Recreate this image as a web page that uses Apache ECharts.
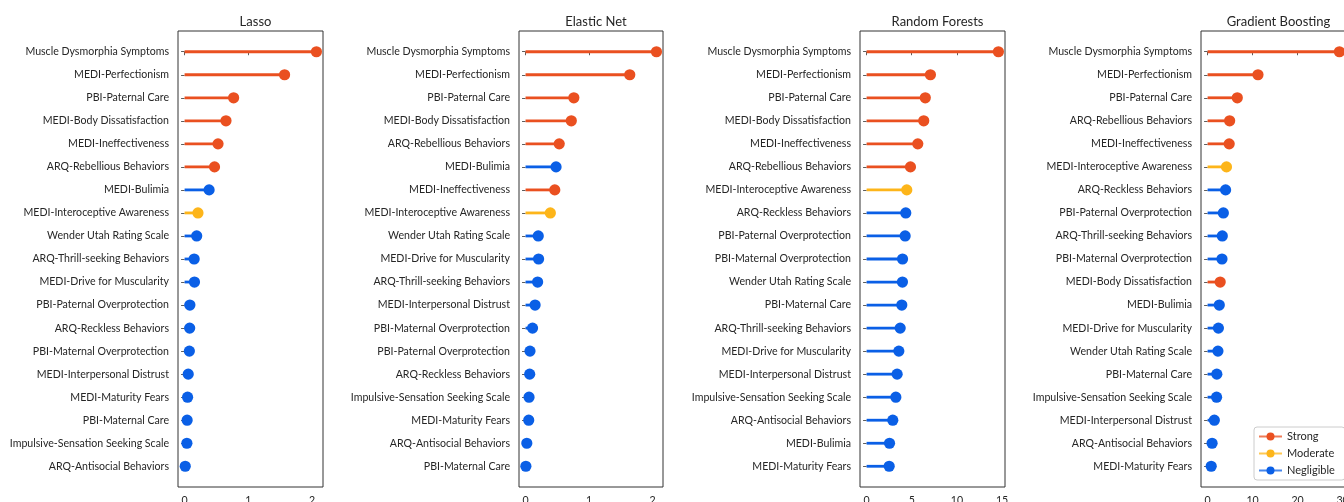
<!DOCTYPE html>
<html>
<head>
<meta charset="utf-8">
<title>Feature importance by model</title>
<script src="https://cdn.jsdelivr.net/npm/echarts@6/dist/echarts.min.js"></script>
<style>
  html, body { margin: 0; padding: 0; background: #fff; }
  #chart { width: 1344px; height: 502px; }
</style>
</head>
<body>
<div id="chart"></div>
<script>
// ---- Feature rankings and importance values per model ----
const lassoFeatures = [
  'Muscle Dysmorphia Symptoms', 'MEDI-Perfectionism', 'PBI-Paternal Care', 'MEDI-Body Dissatisfaction',
  'MEDI-Ineffectiveness', 'ARQ-Rebellious Behaviors', 'MEDI-Bulimia', 'MEDI-Interoceptive Awareness',
  'Wender Utah Rating Scale', 'ARQ-Thrill-seeking Behaviors', 'MEDI-Drive for Muscularity',
  'PBI-Paternal Overprotection', 'ARQ-Reckless Behaviors', 'PBI-Maternal Overprotection',
  'MEDI-Interpersonal Distrust', 'MEDI-Maturity Fears', 'PBI-Maternal Care',
  'Impulsive-Sensation Seeking Scale', 'ARQ-Antisocial Behaviors'
];
const lassoValues = [2.07, 1.57, 0.77, 0.65, 0.525, 0.47, 0.385, 0.21, 0.19, 0.15, 0.155,
  0.083, 0.08, 0.075, 0.057, 0.047, 0.04, 0.036, 0.01];
const lassoStrength = ['Strong', 'Strong', 'Strong', 'Strong', 'Strong', 'Strong', 'Negligible', 'Moderate',
  'Negligible', 'Negligible', 'Negligible', 'Negligible', 'Negligible', 'Negligible', 'Negligible',
  'Negligible', 'Negligible', 'Negligible', 'Negligible'];

const enetFeatures = [
  'Muscle Dysmorphia Symptoms', 'MEDI-Perfectionism', 'PBI-Paternal Care', 'MEDI-Body Dissatisfaction',
  'ARQ-Rebellious Behaviors', 'MEDI-Bulimia', 'MEDI-Ineffectiveness', 'MEDI-Interoceptive Awareness',
  'Wender Utah Rating Scale', 'MEDI-Drive for Muscularity', 'ARQ-Thrill-seeking Behaviors',
  'MEDI-Interpersonal Distrust', 'PBI-Maternal Overprotection', 'PBI-Paternal Overprotection',
  'ARQ-Reckless Behaviors', 'Impulsive-Sensation Seeking Scale', 'MEDI-Maturity Fears',
  'ARQ-Antisocial Behaviors', 'PBI-Maternal Care'
];
const enetValues = [2.06, 1.64, 0.76, 0.72, 0.53, 0.48, 0.46, 0.39, 0.20, 0.205, 0.19,
  0.15, 0.11, 0.07, 0.065, 0.055, 0.05, 0.02, 0.005];
const enetStrength = ['Strong', 'Strong', 'Strong', 'Strong', 'Strong', 'Negligible', 'Strong', 'Moderate',
  'Negligible', 'Negligible', 'Negligible', 'Negligible', 'Negligible', 'Negligible', 'Negligible',
  'Negligible', 'Negligible', 'Negligible', 'Negligible'];

const rfFeatures = [
  'Muscle Dysmorphia Symptoms', 'MEDI-Perfectionism', 'PBI-Paternal Care', 'MEDI-Body Dissatisfaction',
  'MEDI-Ineffectiveness', 'ARQ-Rebellious Behaviors', 'MEDI-Interoceptive Awareness',
  'ARQ-Reckless Behaviors', 'PBI-Paternal Overprotection', 'PBI-Maternal Overprotection',
  'Wender Utah Rating Scale', 'PBI-Maternal Care', 'ARQ-Thrill-seeking Behaviors',
  'MEDI-Drive for Muscularity', 'MEDI-Interpersonal Distrust', 'Impulsive-Sensation Seeking Scale',
  'ARQ-Antisocial Behaviors', 'MEDI-Bulimia', 'MEDI-Maturity Fears'
];
const rfValues = [14.6, 7.07, 6.5, 6.33, 5.67, 4.86, 4.45, 4.34, 4.27, 3.98, 3.97,
  3.9, 3.72, 3.57, 3.38, 3.24, 2.9, 2.54, 2.5];
const rfStrength = ['Strong', 'Strong', 'Strong', 'Strong', 'Strong', 'Strong', 'Moderate',
  'Negligible', 'Negligible', 'Negligible', 'Negligible', 'Negligible', 'Negligible', 'Negligible',
  'Negligible', 'Negligible', 'Negligible', 'Negligible', 'Negligible'];

const gbFeatures = [
  'Muscle Dysmorphia Symptoms', 'MEDI-Perfectionism', 'PBI-Paternal Care', 'ARQ-Rebellious Behaviors',
  'MEDI-Ineffectiveness', 'MEDI-Interoceptive Awareness', 'ARQ-Reckless Behaviors',
  'PBI-Paternal Overprotection', 'ARQ-Thrill-seeking Behaviors', 'PBI-Maternal Overprotection',
  'MEDI-Body Dissatisfaction', 'MEDI-Bulimia', 'MEDI-Drive for Muscularity', 'Wender Utah Rating Scale',
  'PBI-Maternal Care', 'Impulsive-Sensation Seeking Scale', 'MEDI-Interpersonal Distrust',
  'ARQ-Antisocial Behaviors', 'MEDI-Maturity Fears'
];
const gbValues = [29.3, 11.2, 6.6, 4.9, 4.8, 4.2, 4.0, 3.5, 3.27, 3.2, 2.8,
  2.6, 2.4, 2.3, 2.05, 2.0, 1.5, 1.0, 0.8];
const gbStrength = ['Strong', 'Strong', 'Strong', 'Strong', 'Strong', 'Moderate', 'Negligible',
  'Negligible', 'Negligible', 'Negligible', 'Strong', 'Negligible', 'Negligible', 'Negligible',
  'Negligible', 'Negligible', 'Negligible', 'Negligible', 'Negligible'];

// Tick labels on each importance axis
const lassoTicks = [0, 1, 2];
const enetTicks = [0, 1, 2];
const rfTicks = [0, 5, 10, 15];
const gbTicks = [0, 10, 20, 30];

const modelTitles = ['Lasso', 'Elastic Net', 'Random Forests', 'Gradient Boosting'];
const strengthLevels = ['Strong', 'Moderate', 'Negligible'];

// ---- Styling ----
const COLORS = { Strong: '#EA5020', Moderate: '#FDB51A', Negligible: '#0A5FE6' };
const FONT = 'Lato';
const TEXT = '#262626';
const LABEL_SIZE = 10.6;

const panels = [
  { title: modelTitles[0], features: lassoFeatures, values: lassoValues, strength: lassoStrength, ticks: lassoTicks, left: 178, width: 145 },
  { title: modelTitles[1], features: enetFeatures, values: enetValues, strength: enetStrength, ticks: enetTicks, left: 519, width: 144 },
  { title: modelTitles[2], features: rfFeatures, values: rfValues, strength: rfStrength, ticks: rfTicks, left: 860, width: 145 },
  { title: modelTitles[3], features: gbFeatures, values: gbValues, strength: gbStrength, ticks: gbTicks, left: 1201, width: 145 }
];

const GRID_TOP = 31, GRID_HEIGHT = 456;

function renderLollipop(params, api) {
  const v = api.value(0);
  const idx = api.value(1);
  const color = COLORS[strengthLevels[api.value(2)]];
  const base = api.coord([0, idx]);
  const tip = api.coord([v, idx]);
  return {
    type: 'group',
    children: [
      { type: 'line', shape: { x1: base[0], y1: base[1], x2: tip[0], y2: tip[1] },
        style: { stroke: color, lineWidth: 2.8 } },
      { type: 'circle', shape: { cx: tip[0], cy: tip[1], r: 5.6 },
        style: { fill: color } }
    ]
  };
}

const grid = [], xAxis = [], yAxis = [], series = [], title = [];

panels.forEach((p, k) => {
  const n = p.features.length;
  const rowIdx = p.features.map((_, i) => i);
  const maxV = Math.max(...p.values);
  const pad = maxV * 0.05;

  grid.push({
    left: p.left, top: GRID_TOP, width: p.width, height: GRID_HEIGHT,
    outerBoundsMode: 'none', containLabel: false,
    show: true, borderColor: '#333', borderWidth: 1, backgroundColor: '#fff'
  });

  title.push({
    text: p.title,
    left: p.left + p.width / 2,
    top: 10,
    textAlign: 'center',
    textStyle: { fontFamily: FONT, fontSize: 13, fontWeight: 'normal', color: TEXT }
  });

  xAxis.push({
    type: 'value', gridIndex: k,
    min: -pad, max: maxV + pad,
    axisLine: { show: false },
    splitLine: { show: false },
    axisTick: { show: true, customValues: p.ticks, length: 3.5, inside: false,
      lineStyle: { color: '#333', width: 0.8 } },
    axisLabel: { customValues: p.ticks, margin: 8, fontFamily: FONT, fontSize: LABEL_SIZE, color: TEXT,
      formatter: v => String(v) }
  });

  yAxis.push({
    type: 'value', gridIndex: k, inverse: true,
    min: -0.9, max: n - 1 + 0.9,
    axisLine: { show: false },
    splitLine: { show: false },
    axisTick: { show: true, customValues: rowIdx, length: 3.5,
      lineStyle: { color: '#333', width: 0.8 } },
    axisLabel: { customValues: rowIdx, margin: 9, fontFamily: FONT, fontSize: LABEL_SIZE, color: TEXT,
      formatter: v => p.features[Math.round(v)] }
  });

  series.push({
    type: 'custom',
    name: p.title,
    xAxisIndex: k, yAxisIndex: k,
    renderItem: renderLollipop,
    encode: { x: 0, y: 1 },
    silent: true,
    clip: false,
    data: p.values.map((v, i) => [v, i, strengthLevels.indexOf(p.strength[i])])
  });
});

// Legend entries: line with a round marker for each importance level
strengthLevels.forEach(level => {
  series.push({
    type: 'line', name: level, xAxisIndex: 3, yAxisIndex: 3,
    data: [], symbol: 'circle', symbolSize: 10,
    itemStyle: { color: COLORS[level] },
    lineStyle: { color: COLORS[level], width: 2.5, opacity: 0.75 }
  });
});

const chart = echarts.init(document.getElementById('chart'), null, { renderer: 'canvas' });
chart.setOption({
  backgroundColor: '#fff',
  animation: false,
  title,
  grid, xAxis, yAxis, series,
  legend: {
    data: strengthLevels,
    orient: 'vertical',
    left: 1254, top: 427,
    itemWidth: 23, itemHeight: 10, itemGap: 6,
    padding: [4, 10, 4, 4],
    backgroundColor: 'rgba(255,255,255,0.85)',
    borderColor: '#cccccc', borderWidth: 1, borderRadius: 3,
    textStyle: { fontFamily: FONT, fontSize: 11, color: TEXT }
  }
});
</script>
</body>
</html>
